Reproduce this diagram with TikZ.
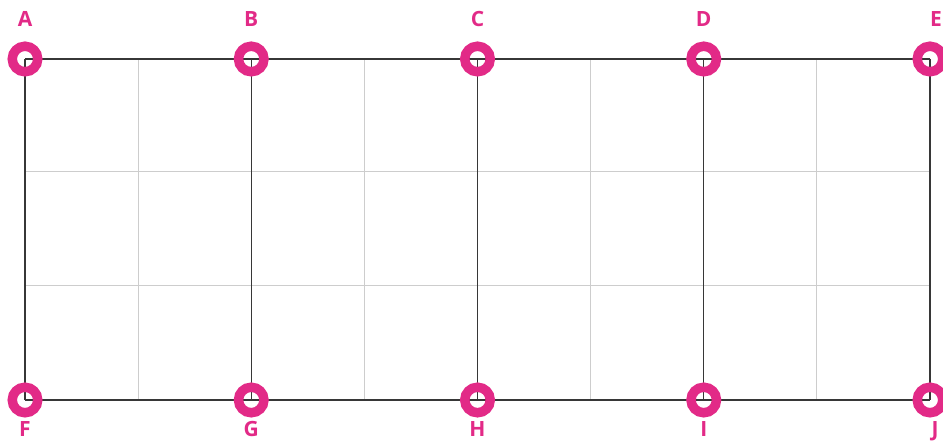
\documentclass[tikz,border=0pt]{standalone}
\usepackage{fontspec}
\setmainfont{Open Sans}
\definecolor{ringpink}{RGB}{226,42,135}
\definecolor{majorgray}{RGB}{55,55,55}
\definecolor{minorgray}{RGB}{205,205,205}

\begin{document}
\begin{tikzpicture}[x=1pt,y=1pt,
  ring/.style={circle,draw=ringpink,line width=9.5pt,minimum size=25.5pt,inner sep=0pt},
  tag/.style={text=ringpink,font=\fontsize{21}{23}\selectfont\bfseries},
  major/.style={majorgray,line width=1.4pt},
  minor/.style={minorgray,line width=1pt}]
  \useasboundingbox (0,0) rectangle (943,443);
  % posts along the top and the bottom
  \foreach \n/\i in {a/0,b/2,c/4,d/6,e/8}
    \coordinate (\n) at (25+\i*113.125,384);
  \foreach \n/\i in {f/0,g/2,h/4,i/6,j/8}
    \coordinate (\n) at (25+\i*113.125,43);
  % light grid
  \foreach \i in {1,3,5,7}
    \draw[minor] (25+\i*113.125,384) -- (25+\i*113.125,43);
  \draw[minor] (a|-0,271) -- (e|-0,271);
  \draw[minor] (a|-0,157) -- (e|-0,157);
  % dark frame
  \draw[major] (a) -- (e);
  \draw[major] (f) -- (j);
  \foreach \t/\b in {a/f,b/g,c/h,d/i,e/j}
    \draw[major] (\t) -- (\b);
  % rings
  \foreach \n/\l in {a/A,b/B,c/C,d/D}
    \node[ring,label={[tag,label distance=11pt]above:\l}] (r\n) at (\n) {};
  \node[ring,label={[tag,label distance=11pt,xshift=6pt]above:E}] (re) at (e) {};
  \foreach \n/\l in {f/F,g/G,h/H,i/I}
    \node[ring,label={[tag,label distance=0.5pt]below:\l}] (r\n) at (\n) {};
  \node[ring,label={[tag,label distance=0.5pt,xshift=5pt]below:J}] (rj) at (j) {};
\end{tikzpicture}
\end{document}
